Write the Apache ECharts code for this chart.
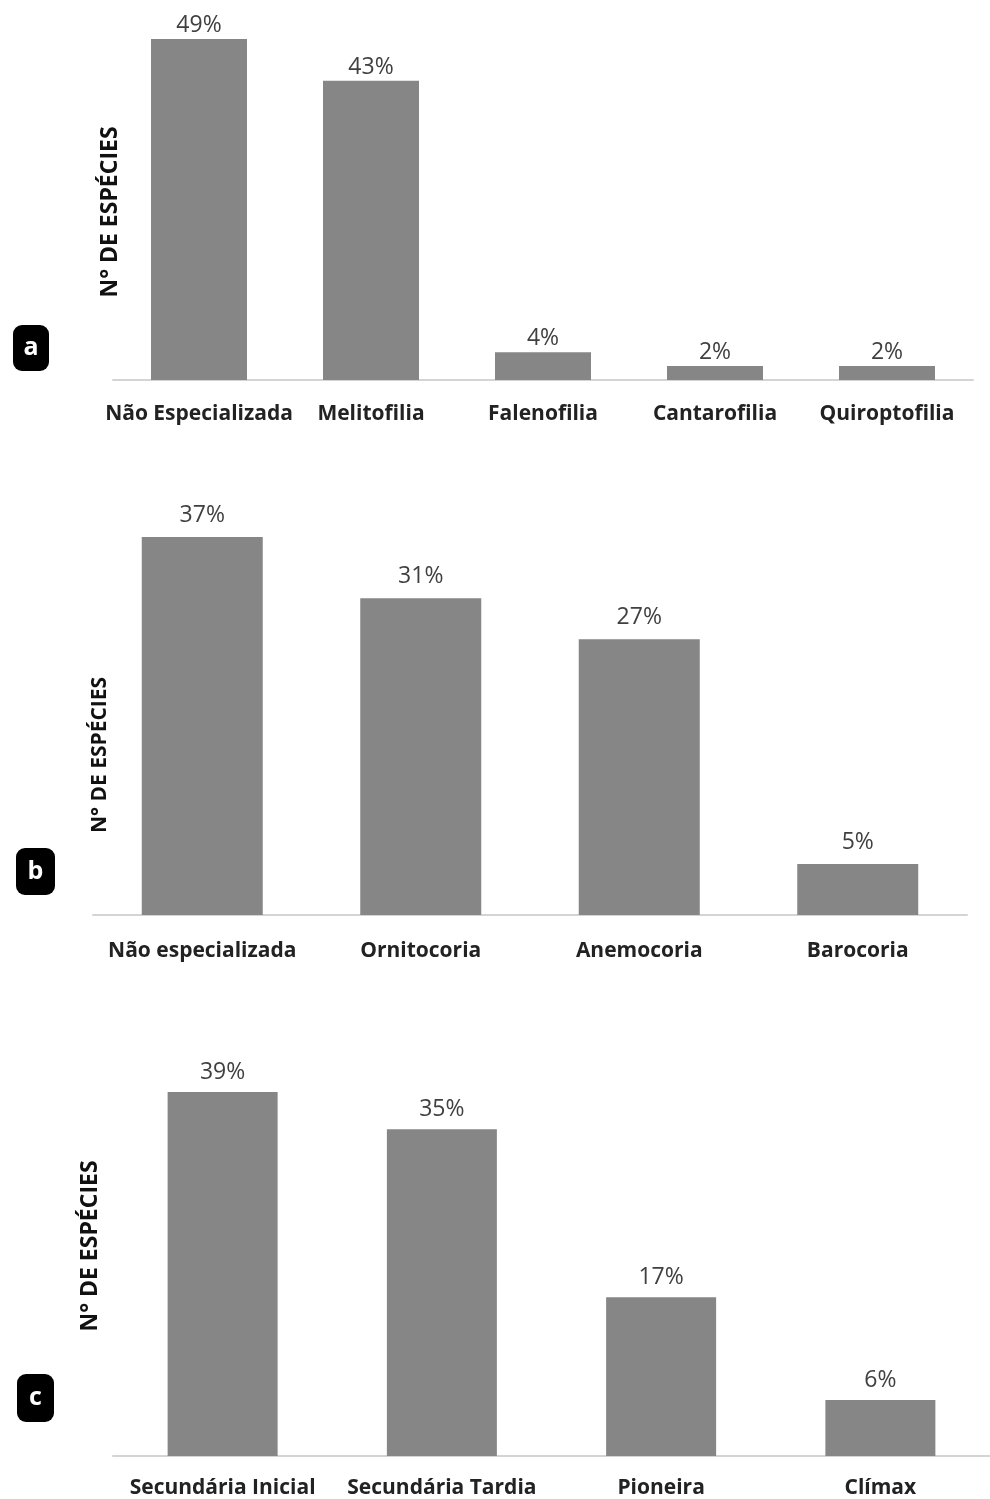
<!DOCTYPE html>
<html>
<head>
<meta charset="utf-8">
<script src="https://cdn.jsdelivr.net/npm/echarts@6/dist/echarts.min.js"></script>
<style>
  html, body { margin: 0; padding: 0; background: #fff; }
  #chart { width: 990px; height: 1499px; }
</style>
</head>
<body>
<div id="chart"></div>
<script>
// (a) síndromes de polinização
const catsA = ['Não Especializada', 'Melitofilia', 'Falenofilia', 'Cantarofilia', 'Quiroptofilia'];
const valsA = [49, 43, 4, 2, 2];
// (b) síndromes de dispersão
const catsB = ['Não especializada', 'Ornitocoria', 'Anemocoria', 'Barocoria'];
const valsB = [37, 31, 27, 5];
// (c) grupos ecológicos
const catsC = ['Secundária Inicial', 'Secundária Tardia', 'Pioneira', 'Clímax'];
const valsC = [39, 35, 17, 6];

const yName = 'N° DE ESPÉCIES';
const FONT = '"Open Sans", "Noto Sans", sans-serif';
const BAR = '#868686';

const chart = echarts.init(document.getElementById('chart'), null, { renderer: 'canvas' });

function xAx(idx, cats, margin) {
  return {
    type: 'category', gridIndex: idx, data: cats,
    axisLine: { show: true, lineStyle: { color: '#d4d4d4', width: 2 } },
    axisTick: { show: false },
    axisLabel: { margin: margin, color: '#222', fontFamily: FONT, fontWeight: 'bold', fontSize: 21, interval: 0 }
  };
}
function yAx(idx, max) {
  return {
    type: 'value', gridIndex: idx, min: 0, max: max,
    axisLine: { show: false }, axisTick: { show: false },
    axisLabel: { show: false }, splitLine: { show: false }
  };
}
function bars(idx, vals, width, dist) {
  return {
    type: 'bar', xAxisIndex: idx, yAxisIndex: idx, data: vals,
    barWidth: width,
    itemStyle: { color: BAR },
    label: {
      show: true, position: 'top', distance: dist,
      formatter: '{c}%', color: '#404040', fontFamily: FONT, fontSize: 23
    },
    silent: true, animation: false
  };
}
function badge(letter, x, y, w, h) {
  return {
    type: 'group', x: x, y: y,
    children: [
      { type: 'rect', shape: { x: 0, y: 0, width: w, height: h, r: 9 }, style: { fill: '#000' } },
      { type: 'text', x: w / 2, y: h / 2,
        style: { text: letter, fill: '#fff', font: 'bold 25px ' + FONT, align: 'center', verticalAlign: 'middle' } }
    ]
  };
}
function vName(x, y, size) {
  return {
    type: 'text', x: x, y: y, rotation: Math.PI / 2,
    style: { text: yName, fill: '#111', font: 'bold ' + size + 'px ' + FONT, align: 'center', verticalAlign: 'middle' }
  };
}

chart.setOption({
  animation: false,
  grid: [
    { left: 113, width: 860, top: 39, height: 341 },
    { left: 93, width: 874, top: 537, height: 378 },
    { left: 113, right: 0, top: 1092, height: 364 }
  ],
  xAxis: [xAx(0, catsA, 24), xAx(1, catsB, 26), xAx(2, catsC, 22)],
  yAxis: [yAx(0, 49), yAx(1, 37), yAx(2, 39)],
  series: [bars(0, valsA, 96, 2), bars(1, valsB, 121, 10), bars(2, valsC, 110, 8)],
  graphic: [
    vName(110, 212, 23), vName(100, 755, 21), vName(90, 1246, 23),
    badge('a', 13, 325, 36, 46),
    badge('b', 16, 848, 39, 47),
    badge('c', 17, 1374, 37, 48)
  ]
});
</script>
</body>
</html>
